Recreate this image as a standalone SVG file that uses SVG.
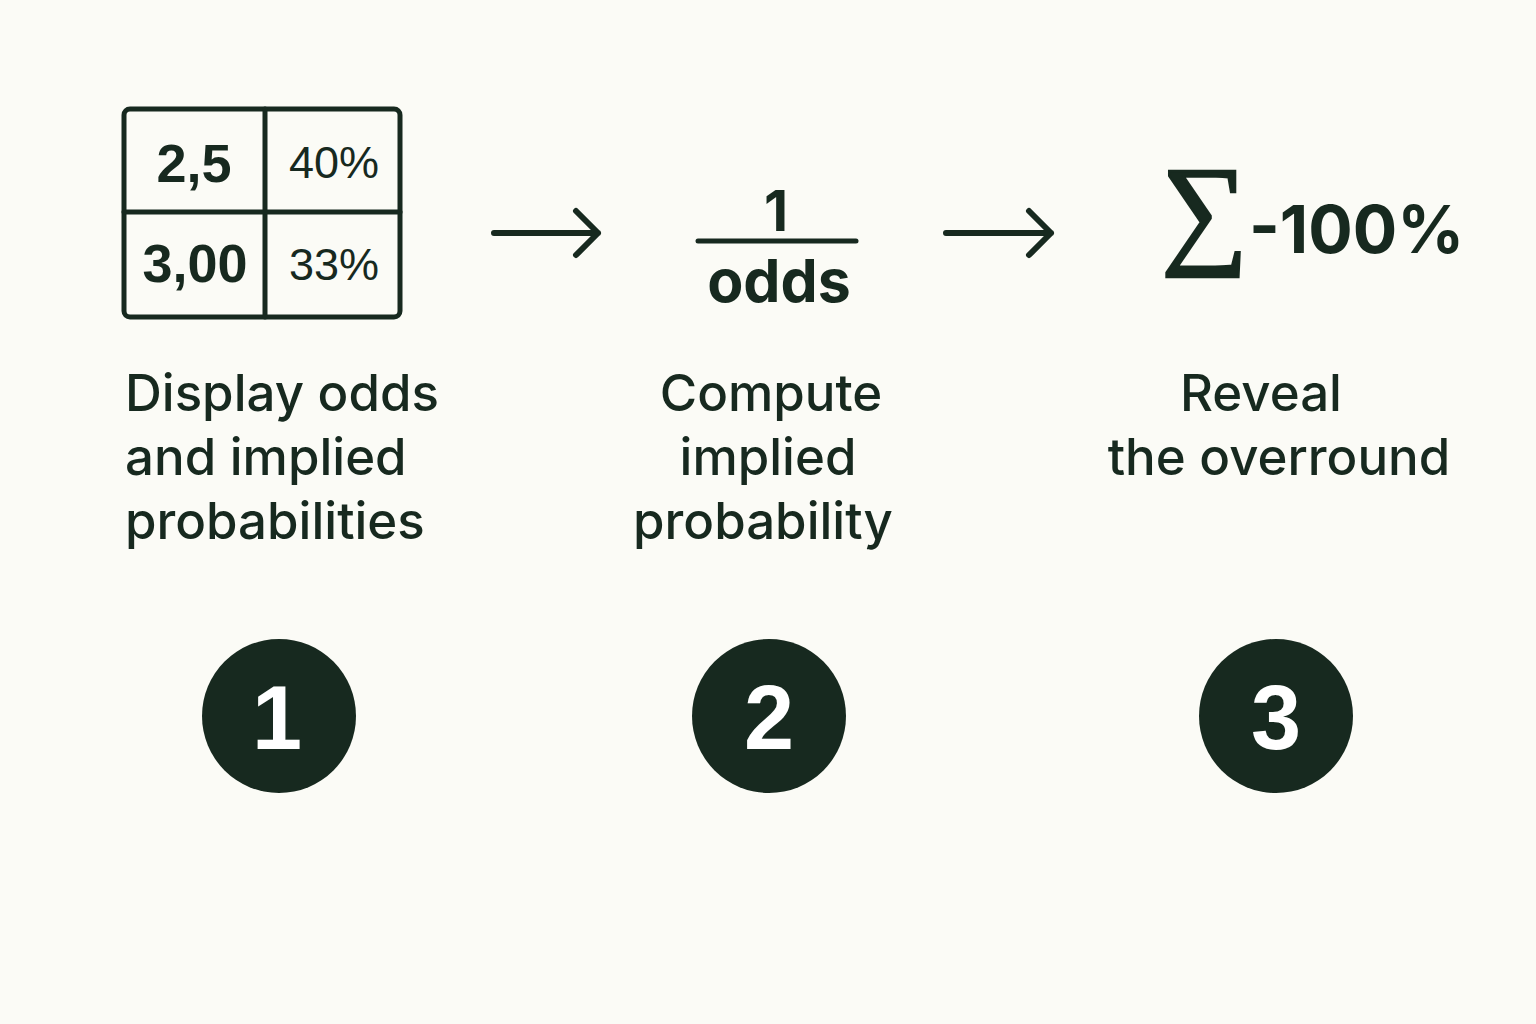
<svg xmlns="http://www.w3.org/2000/svg" width="1536" height="1024" viewBox="0 0 1536 1024">
<style>
.ink{fill:#17291f}
.lbl{font-family:Inter,"Noto Sans",sans-serif;font-weight:500;font-size:51px;fill:#17291f}
.b{font-family:Inter,"Noto Sans",sans-serif;font-weight:700;fill:#17291f}
.tb{font-family:"Liberation Sans",Arial,sans-serif;font-weight:700;font-size:54px;fill:#17291f}
.tr{font-family:"Liberation Sans",Arial,sans-serif;font-weight:400;font-size:45px;fill:#17291f}
.num{font-family:"Liberation Sans",Arial,sans-serif;font-weight:700;font-size:90px;fill:#ffffff}
.ln{stroke:#17291f;stroke-width:5;fill:none;stroke-linecap:round;stroke-linejoin:round}
.arr{stroke:#17291f;stroke-width:6;fill:none;stroke-linecap:round;stroke-linejoin:round}
</style>
<rect width="1536" height="1024" fill="#fbfbf6"/>
<g id="node-table">
<rect x="124" y="109" width="276" height="208" rx="6" class="ln"/>
<line x1="265" y1="109" x2="265" y2="317" class="ln"/>
<line x1="124" y1="212" x2="400" y2="212" class="ln"/>
<text x="194" y="182" text-anchor="middle" class="tb">2,5</text>
<text x="334" y="178" text-anchor="middle" class="tr">40%</text>
<text x="195" y="282" text-anchor="middle" class="tb">3,00</text>
<text x="334" y="280" text-anchor="middle" class="tr">33%</text>
</g>
<g id="node-fraction">
<text x="776" y="231" text-anchor="middle" class="b" font-size="56">1</text>
<line x1="698" y1="241" x2="856" y2="241" class="ln"/>
<text x="779" y="302" text-anchor="middle" class="b" font-size="59">odds</text>
</g>
<g id="node-sum">
<text x="1161" y="251" class="ink" stroke="#17291f" stroke-width="2.5" stroke-linejoin="miter" font-family="'Liberation Serif','DejaVu Serif',serif" font-size="122">∑</text>
<text x="1249" y="253" class="b" font-size="66">-100%</text>
</g>
<g id="label-1">
<text class="lbl"><tspan x="125" y="411">Display odds</tspan><tspan x="125" y="475">and implied</tspan><tspan x="125" y="539">probabilities</tspan></text>
</g>
<g id="label-2">
<text class="lbl" text-anchor="middle"><tspan x="771" y="411">Compute</tspan><tspan x="768" y="475">implied</tspan><tspan x="763" y="539">probability</tspan></text>
</g>
<g id="label-3">
<text class="lbl" text-anchor="middle"><tspan x="1261" y="411">Reveal</tspan><tspan x="1279" y="475">the overround</tspan></text>
</g>
<g id="step-1"><circle cx="279" cy="716" r="77" class="ink"/><text x="277" y="749" text-anchor="middle" class="num">1</text></g>
<g id="step-2"><circle cx="769" cy="716" r="77" class="ink"/><text x="769" y="749" text-anchor="middle" class="num">2</text></g>
<g id="step-3"><circle cx="1276" cy="716" r="77" class="ink"/><text x="1276" y="749" text-anchor="middle" class="num">3</text></g>
<g id="connectors">
<path d="M494 233 H598 M576 211 L598 233 L576 255" class="arr"/>
<path d="M946 233 H1051 M1029 211 L1051 233 L1029 255" class="arr"/>
</g>
</svg>
